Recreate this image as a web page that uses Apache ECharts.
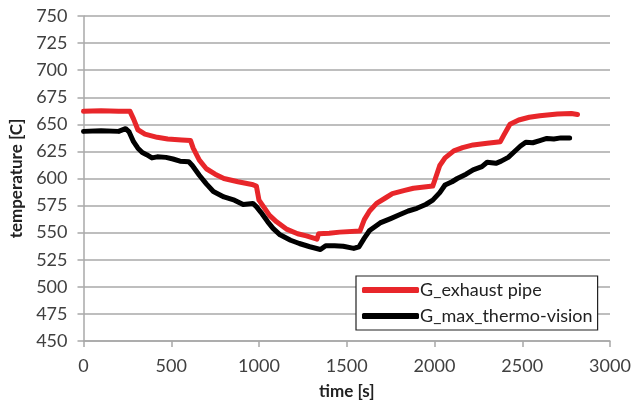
<!DOCTYPE html>
<html>
<head>
<meta charset="utf-8">
<script src="https://cdn.jsdelivr.net/npm/echarts@6/dist/echarts.min.js"></script>
<style>
html,body{margin:0;padding:0;background:#fff;}
#chart{width:637px;height:405px;}
</style>
</head>
<body>
<div id="chart"></div>
<script>
const seriesNames = ['G_exhaust pipe', 'G_max_thermo-vision'];
const xTicks = [0, 500, 1000, 1500, 2000, 2500, 3000];
const yTicks = [450, 475, 500, 525, 550, 575, 600, 625, 650, 675, 700, 725, 750];

const exhaustTime = [0,100,200,265,285,310,350,420,480,560,610,625,660,700,750,800,880,960,985,1000,1060,1100,1160,1220,1270,1330,1340,1400,1460,1575,1600,1630,1670,1720,1760,1830,1880,1990,2005,2030,2060,2110,2160,2220,2300,2375,2395,2430,2480,2540,2600,2700,2780,2815];
const exhaustTemp = [662,662.5,662,662,655,645,641,638,636.5,635.5,635,628,617,609,604,600,597,594.5,593,580,566,560,553,549,547,544,549,549.5,550.5,551.5,562,570,577,582,586,589,591,593,600,612,619,625.5,628.5,631,632.5,634,640,650,654,656.5,658,659.5,660,659];

const visionTime = [0,100,200,240,260,285,310,335,360,390,420,470,510,550,600,620,660,700,740,800,860,910,965,985,1010,1050,1080,1120,1180,1230,1290,1350,1380,1430,1480,1540,1570,1600,1630,1690,1750,1800,1850,1900,1950,1990,2030,2060,2100,2130,2180,2220,2270,2300,2350,2380,2420,2450,2490,2520,2560,2600,2640,2680,2720,2770];
const visionTemp = [643.5,644,643.5,646,643,634,628,624,622,619,620,619.5,618,616,615.5,612,603,595,588,583,580,576,577,574,569,560,554,548,543,540,537,534.5,538,538,537.5,535.5,537,545,552,559,563,566.5,570,572.5,576,580,587,594,597,600,604,608,611,615,614,616,619.5,624,630,633.5,633,635,637,636.5,637.5,637.5];

function zip(a, b) { return a.map((v, i) => [v, b[i]]); }

const chart = echarts.init(document.getElementById('chart'), null, {renderer: 'canvas'});
const fontFam = 'Lato, "Liberation Sans", sans-serif';
const gridColor = '#a8a8a8';

chart.setOption({
  animation: false,
  backgroundColor: '#ffffff',
  grid: {left: 83.5, right: 27, top: 16, bottom: 61, containLabel: false},
  legend: {
    orient: 'vertical',
    left: 356,
    top: 276,
    padding: [5, 5, 5, 6],
    itemGap: 8,
    itemWidth: 57,
    itemHeight: 6,
    icon: 'roundRect',
    backgroundColor: '#ffffff',
    borderColor: '#222222',
    borderWidth: 1.2,
    borderRadius: 0,
    textStyle: {fontFamily: fontFam, fontSize: 18, color: '#222222', padding: [0, 0, 0, -4]},
    data: seriesNames
  },
  xAxis: {
    type: 'value',
    min: xTicks[0],
    max: xTicks[xTicks.length - 1],
    interval: 500,
    name: 'time [s]',
    nameLocation: 'middle',
    nameGap: 42,
    nameTextStyle: {fontFamily: fontFam, fontSize: 17, fontWeight: 'bold', color: '#222222'},
    axisLine: {lineStyle: {color: gridColor, width: 1.5}},
    axisTick: {show: true, length: 6, lineStyle: {color: gridColor, width: 1.5}},
    axisLabel: {margin: 16, fontFamily: fontFam, fontSize: 18, color: '#404040', formatter: v => String(v)},
    splitLine: {show: false}
  },
  yAxis: {
    type: 'value',
    min: yTicks[0],
    max: yTicks[yTicks.length - 1],
    interval: 25,
    name: 'temperature [C]',
    nameLocation: 'middle',
    nameGap: 52,
    nameRotate: 90,
    nameTextStyle: {fontFamily: fontFam, fontSize: 17, fontWeight: 'bold', color: '#222222'},
    axisLine: {show: true, lineStyle: {color: gridColor, width: 1.5}},
    axisTick: {show: true, length: 6, lineStyle: {color: gridColor, width: 1.5}},
    axisLabel: {margin: 16, fontFamily: fontFam, fontSize: 18, color: '#404040', formatter: v => String(v)},
    splitLine: {show: true, lineStyle: {color: gridColor, width: 1.5}}
  },
  series: [
    {
      name: seriesNames[0],
      type: 'line',
      data: zip(exhaustTime, exhaustTemp),
      showSymbol: false,
      symbol: 'none',
      lineStyle: {color: '#e8262a', width: 5, cap: 'round', join: 'round'},
      itemStyle: {color: '#e8262a'},
      z: 3
    },
    {
      name: seriesNames[1],
      type: 'line',
      data: zip(visionTime, visionTemp),
      showSymbol: false,
      symbol: 'none',
      lineStyle: {color: '#000000', width: 5, cap: 'round', join: 'round'},
      itemStyle: {color: '#000000'},
      z: 4
    }
  ]
});
</script>
</body>
</html>
